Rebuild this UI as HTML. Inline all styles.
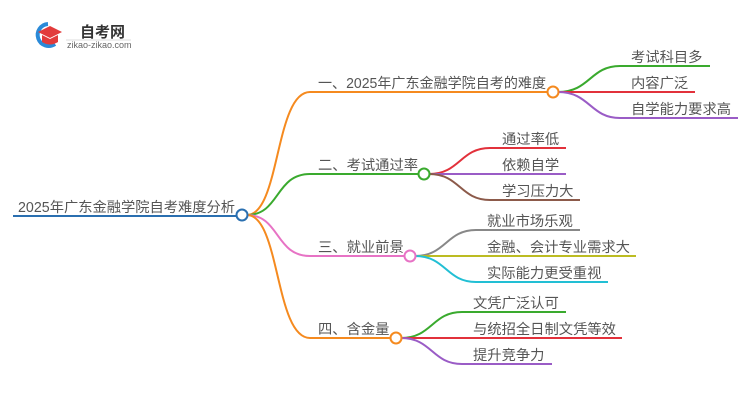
<!DOCTYPE html>
<html><head><meta charset="utf-8"><style>
body{margin:0;background:#fff;width:750px;height:410px;overflow:hidden}
svg text{font-family:"Liberation Sans","Noto Sans CJK SC",sans-serif;fill:#555;font-size:14.3px}
</style></head><body>
<svg width="750" height="410" viewBox="0 0 750 410" fill="none" stroke-width="2">
<!-- logo -->
<path d="M48 24 A11 11 0 1 0 55 44" stroke="#2a8ad8" stroke-width="4"/>
<path d="M38 32 L50 26 L62 32 L50 38 Z" fill="#e23b3b" stroke="none"/>
<path d="M42 35 L42 42 Q50 47 58 42 L58 35 L50 39 Z" fill="#e23b3b" stroke="none"/>
<text x="80" y="37" style="font-size:15px;font-weight:bold;fill:#333">自考网</text>
<line x1="66" y1="40" x2="131" y2="40" stroke="#ddd" stroke-width="1"/>
<text x="67" y="48" style="font-size:9px;fill:#666">zikao-zikao.com</text>

<!-- root -->
<line x1="13" y1="216" x2="237" y2="216" stroke="#2a6fb0"/>
<text x="18" y="212" textLength="217" lengthAdjust="spacingAndGlyphs">2025年广东金融学院自考难度分析</text>
<!-- branches -->
<path d="M247 215 C280 215 275 92 310 92 L548 92" stroke="#f58a1f"/>
<path d="M247 215 C280 215 275 174 310 174 L418 174" stroke="#3aaa2e"/>
<path d="M247 215 C280 215 275 256 310 256 L404 256" stroke="#e773c5"/>
<path d="M247 215 C280 215 275 338 310 338 L390 338" stroke="#f58a1f"/>
<text x="318" y="88" textLength="228" lengthAdjust="spacingAndGlyphs">一、2025年广东金融学院自考的难度</text>
<text x="318" y="170">二、考试通过率</text>
<text x="318" y="252">三、就业前景</text>
<text x="318" y="334">四、含金量</text>

<!-- b1 children -->
<path d="M558 92 C590 92 590 66 620 66 L710 66" stroke="#3aaa2e"/>
<path d="M558 92 L695 92" stroke="#e2313b"/>
<path d="M558 92 C590 92 590 118 620 118 L738 118" stroke="#9a5cc6"/>
<text x="631" y="62">考试科目多</text>
<text x="631" y="88">内容广泛</text>
<text x="631" y="114">自学能力要求高</text>
<!-- b2 children -->
<path d="M429 174 C460 174 460 148 490 148 L566 148" stroke="#e2313b"/>
<path d="M429 174 L566 174" stroke="#9a5cc6"/>
<path d="M429 174 C460 174 460 200 490 200 L580 200" stroke="#8c5a4a"/>
<text x="502" y="144">通过率低</text>
<text x="502" y="170">依赖自学</text>
<text x="502" y="196">学习压力大</text>
<!-- b3 children -->
<path d="M415 256 C446 256 446 230 476 230 L580 230" stroke="#888"/>
<path d="M415 256 L636 256" stroke="#bcbc22"/>
<path d="M415 256 C446 256 446 282 476 282 L608 282" stroke="#22bfd4"/>
<text x="487" y="226">就业市场乐观</text>
<text x="487" y="252">金融、会计专业需求大</text>
<text x="487" y="278">实际能力更受重视</text>
<!-- b4 children -->
<path d="M401 338 C432 338 432 312 462 312 L566 312" stroke="#3aaa2e"/>
<path d="M401 338 L622 338" stroke="#e2313b"/>
<path d="M401 338 C432 338 432 364 462 364 L552 364" stroke="#9a5cc6"/>
<text x="473" y="308">文凭广泛认可</text>
<text x="473" y="334">与统招全日制文凭等效</text>
<text x="473" y="360">提升竞争力</text>

<!-- circles -->
<circle cx="242" cy="215" r="5.5" fill="#fff" stroke="#2a6fb0"/>
<circle cx="553" cy="92" r="5.5" fill="#fff" stroke="#f58a1f"/>
<circle cx="424" cy="174" r="5.5" fill="#fff" stroke="#3aaa2e"/>
<circle cx="410" cy="256" r="5.5" fill="#fff" stroke="#e773c5"/>
<circle cx="396" cy="338" r="5.5" fill="#fff" stroke="#f58a1f"/>
</svg>
</body></html>
